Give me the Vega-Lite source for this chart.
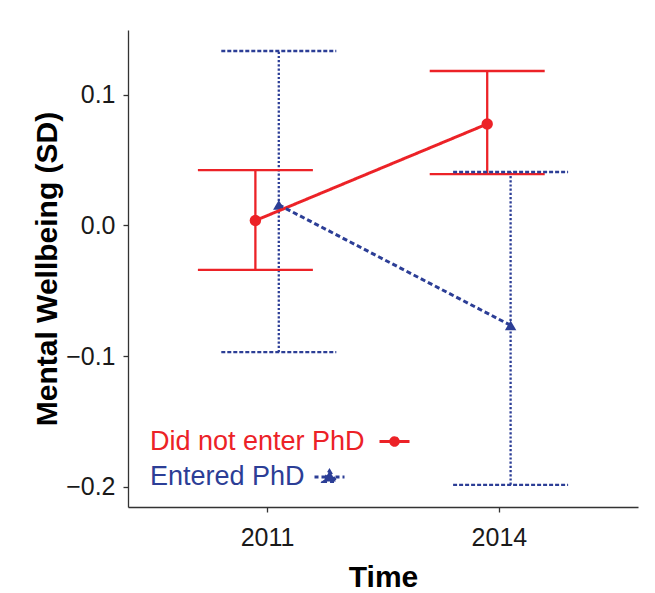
{
  "$schema": "https://vega.github.io/schema/vega-lite/v6.json",
  "width": 510,
  "height": 477,
  "autosize": {"type": "none"},
  "padding": {"left": 128, "top": 30, "right": 17, "bottom": 86},
  "background": "white",
  "config": {
    "view": {"stroke": null},
    "font": "Liberation Sans",
    "axis": {
      "labelFont": "Liberation Sans",
      "labelFontSize": 25,
      "labelColor": "#1a1a1a",
      "titleFont": "Liberation Sans",
      "titleFontSize": 30,
      "titleFontWeight": "bold",
      "titleColor": "#000000",
      "domainColor": "#333333",
      "domainWidth": 1.3,
      "tickColor": "#333333",
      "tickWidth": 1.3,
      "tickSize": 5,
      "grid": false
    }
  },
  "data": {
    "values": [
      {"Time": "2011", "Group": "Did not enter PhD", "mean": 0.0038, "lo": -0.034, "hi": 0.0424},
      {"Time": "2014", "Group": "Did not enter PhD", "mean": 0.0778, "lo": 0.0393, "hi": 0.1184},
      {"Time": "2011", "Group": "Entered PhD", "mean": 0.0158, "lo": -0.097, "hi": 0.1337},
      {"Time": "2014", "Group": "Entered PhD", "mean": -0.0765, "lo": -0.1987, "hi": 0.041}
    ]
  },
  "encoding": {
    "x": {
      "field": "Time",
      "type": "ordinal",
      "scale": {"type": "point", "padding": 0.6},
      "axis": {"labelAngle": 0, "labelPadding": 13, "titlePadding": 12},
      "title": "Time"
    },
    "color": {
      "field": "Group",
      "type": "nominal",
      "scale": {"domain": ["Did not enter PhD", "Entered PhD"], "range": ["#EC2227", "#2C3E96"]},
      "legend": {
        "orient": "none",
        "legendX": 19,
        "legendY": 395,
        "title": null,
        "padding": 0,
        "labelFont": "Liberation Sans",
        "labelFontSize": 27,
        "labelLimit": 400,
        "labelColor": {"expr": "datum.label == 'Entered PhD' ? '#2C3E96' : '#EC2227'"},
        "symbolType": {"expr": "datum.label == 'Entered PhD' ? 'M-1,0H1M0,-0.4L0.42,0.3L-0.42,0.3Z' : 'M-1,0H1M0.25,0A0.25,0.25,0,1,1,-0.25,0A0.25,0.25,0,1,1,0.25,0Z'"},
        "symbolSize": 900,
        "symbolOffset": {"expr": "datum.label == 'Entered PhD' ? 166 : 231"},
        "labelOffset": {"expr": "datum.label == 'Entered PhD' ? -196 : -261"},
        "rowPadding": 5.5,
        "encode": {
          "symbols": {
            "update": {
              "shape": {"signal": "datum.label == 'Entered PhD' ? 'M-1,0H1M0,-0.4L0.42,0.3L-0.42,0.3Z' : 'M-1,0H1M0.25,0A0.25,0.25,0,1,1,-0.25,0A0.25,0.25,0,1,1,0.25,0Z'"},
              "size": {"value": 900},
              "fill": {"signal": "datum.label == 'Entered PhD' ? '#2C3E96' : '#EC2227'"},
              "stroke": {"signal": "datum.label == 'Entered PhD' ? '#2C3E96' : '#EC2227'"},
              "strokeWidth": {"value": 3},
              "strokeDash": {"signal": "datum.label == 'Entered PhD' ? [4, 3] : [1, 0]"},
              "opacity": {"value": 1}
            }
          }
        }
      }
    }
  },
  "layer": [
    {
      "mark": {"type": "rule", "strokeWidth": 2.3, "xOffset": {"expr": "datum.Group == 'Entered PhD' ? 11.7 : -11.7"}},
      "encoding": {
        "y": {"field": "lo", "type": "quantitative", "scale": {"domain": [-0.2157, 0.1498], "nice": false, "zero": false}, "axis": {"values": [-0.2, -0.1, 0, 0.1], "format": ".1f", "labelPadding": 8, "titlePadding": 3}, "title": "Mental Wellbeing (SD)"},
        "y2": {"field": "hi"},
        "strokeDash": {"field": "Group", "type": "nominal", "scale": {"domain": ["Did not enter PhD", "Entered PhD"], "range": [[1, 0], [2.2, 2]]}, "legend": null}
      }
    },
    {
      "mark": {"type": "rule", "strokeWidth": 2.3, "xOffset": {"expr": "datum.Group == 'Entered PhD' ? -45.8 : -69.2"}, "x2Offset": {"expr": "datum.Group == 'Entered PhD' ? 69.2 : 45.8"}},
      "encoding": {
        "x2": {"field": "Time"},
        "y": {"field": "lo", "type": "quantitative"},
        "strokeDash": {"field": "Group", "type": "nominal", "legend": null}
      }
    },
    {
      "mark": {"type": "rule", "strokeWidth": 2.3, "xOffset": {"expr": "datum.Group == 'Entered PhD' ? -45.8 : -69.2"}, "x2Offset": {"expr": "datum.Group == 'Entered PhD' ? 69.2 : 45.8"}},
      "encoding": {
        "x2": {"field": "Time"},
        "y": {"field": "hi", "type": "quantitative"},
        "strokeDash": {"field": "Group", "type": "nominal", "legend": null}
      }
    },
    {
      "mark": {"type": "point", "filled": true, "opacity": 1, "size": 130, "shape": {"expr": "datum.Group == 'Entered PhD' ? 'triangle-up' : 'circle'"}, "xOffset": {"expr": "datum.Group == 'Entered PhD' ? 11.7 : -11.7"}},
      "encoding": {
        "y": {"field": "mean", "type": "quantitative"}
      }
    },
    {
      "mark": {"type": "line", "strokeWidth": 3, "xOffset": {"expr": "datum.Group == 'Entered PhD' ? 11.7 : -11.7"}},
      "encoding": {
        "y": {"field": "mean", "type": "quantitative"},
        "strokeDash": {"field": "Group", "type": "nominal", "scale": {"domain": ["Did not enter PhD", "Entered PhD"], "range": [[1, 0], [5, 3]]}, "legend": null}
      }
    }
  ],
  "resolve": {"scale": {"strokeDash": "independent"}}
}
